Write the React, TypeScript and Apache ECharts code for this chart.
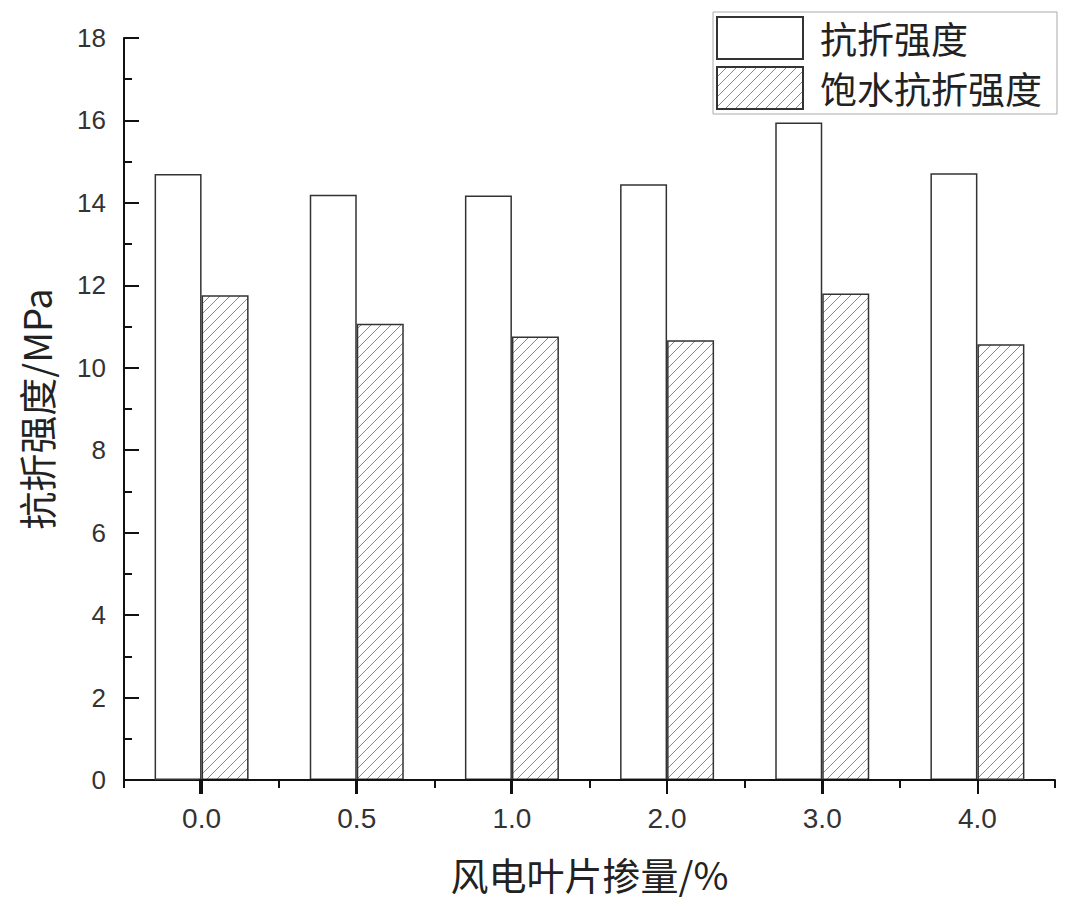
import React, { useEffect, useRef } from "react";
import * as echarts from "echarts";

const categories = ["0.0", "0.5", "1.0", "2.0", "3.0", "4.0"];
const flexural = [14.7, 14.2, 14.18, 14.45, 15.95, 14.72];
const saturatedFlexural = [11.76, 11.07, 10.76, 10.67, 11.8, 10.57];
const seriesNames = ["抗折强度", "饱水抗折强度"];

function makeHatch(): HTMLCanvasElement {
  const s = 10;
  const c = document.createElement("canvas");
  c.width = s;
  c.height = s;
  const ctx = c.getContext("2d")!;
  ctx.fillStyle = "#ffffff";
  ctx.fillRect(0, 0, s, s);
  ctx.strokeStyle = "#8a8a8a";
  ctx.lineWidth = 1;
  ctx.beginPath();
  ctx.moveTo(-1, s + 1);
  ctx.lineTo(s + 1, -1);
  ctx.moveTo(-1, 1);
  ctx.lineTo(1, -1);
  ctx.moveTo(s - 1, s + 1);
  ctx.lineTo(s + 1, s - 1);
  ctx.stroke();
  return c;
}

export default function App() {
  const ref = useRef<HTMLDivElement>(null);
  useEffect(() => {
    if (!ref.current) return;
    const chart = echarts.init(ref.current, undefined, { renderer: "svg" });
    const hatch = makeHatch();
    const font = "'Liberation Sans', Arial, sans-serif";
    const cjk = "'Noto Sans CJK SC', sans-serif";
    const ink = "#111";
    const L = 114, R = 17, T = 30, B = 127;
    const width = 1064;
    const half = (width - L - R) / categories.length / 2;
    const centreIdx = categories.map((_, i) => i);
    chart.setOption({
      animation: false,
      backgroundColor: "#ffffff",
      grid: [
        { left: L, right: R, top: T, bottom: B },
        // spans first..last category centre: carries the major x ticks
        { left: L + half, right: R + half, top: T, bottom: B },
      ],
      legend: {
        orient: "vertical",
        left: 705,
        top: 4,
        icon: "rect",
        itemWidth: 86,
        itemHeight: 42,
        itemGap: 6,
        padding: [4, 15, 4, 3],
        borderColor: "#aaa",
        borderWidth: 1,
        textStyle: { fontSize: 37, fontFamily: cjk, color: "#222", padding: [0, 0, 0, 12] },
        data: seriesNames,
      },
      xAxis: [
        {
          type: "category",
          gridIndex: 0,
          data: categories,
          position: "bottom",
          boundaryGap: true,
          z: 1,
          axisLine: { show: true, onZero: false, lineStyle: { color: ink, width: 2 } },
          axisTick: { show: true, inside: false, length: 8, lineStyle: { color: ink, width: 2 } },
          axisLabel: { show: true, fontSize: 28, fontFamily: font, color: "#333", margin: 24 },
          splitLine: { show: false },
          name: "风电叶片掺量/%",
          nameLocation: "middle",
          nameGap: 74,
          nameTextStyle: { fontSize: 38, fontFamily: cjk, color: "#222" },
        },
        {
          type: "value",
          gridIndex: 1,
          min: 0,
          max: categories.length - 1,
          interval: 1,
          position: "bottom",
          z: 5,
          axisLine: { show: true, onZero: false, lineStyle: { color: ink, width: 2 } },
          axisTick: { show: true, inside: false, length: 14, lineStyle: { color: ink, width: 2 } },
          axisLabel: { show: false },
          splitLine: { show: false },
        },
        {
          type: "value",
          gridIndex: 0,
          min: -0.5,
          max: categories.length - 0.5,
          splitNumber: categories.length - 1,
          position: "bottom",
          z: 5,
          axisLine: { show: false, onZero: false },
          axisTick: {
            show: true,
            inside: false,
            length: 14,
            customValues: centreIdx,
            lineStyle: { color: ink, width: 2 },
          },
          axisLabel: { show: false },
          splitLine: { show: false },
        },
      ],
      yAxis: [
        {
          type: "value",
          gridIndex: 0,
          min: 0,
          max: 18,
          interval: 2,
          position: "left",
          splitLine: { show: false },
          axisLine: { show: true, onZero: false, lineStyle: { color: ink, width: 2 } },
          axisTick: { show: true, inside: true, length: 15, lineStyle: { color: ink, width: 2 } },
          axisLabel: { show: true, fontSize: 26, fontFamily: font, color: "#333", margin: 18 },
          name: "抗折强度/MPa",
          nameLocation: "middle",
          nameGap: 70,
          nameTextStyle: { fontSize: 38, fontFamily: cjk, color: "#222" },
        },
        {
          type: "value",
          gridIndex: 0,
          min: 0,
          max: 18,
          interval: 1,
          position: "left",
          splitLine: { show: false },
          axisLine: { show: false, onZero: false },
          axisTick: { show: true, inside: true, length: 8, lineStyle: { color: ink, width: 2 } },
          axisLabel: { show: false },
        },
        {
          type: "value",
          gridIndex: 1,
          min: 0,
          max: 18,
          axisLine: { show: false, onZero: false },
          axisTick: { show: false },
          axisLabel: { show: false },
          splitLine: { show: false },
        },
      ],
      series: [
        {
          name: seriesNames[0],
          type: "bar",
          xAxisIndex: 0,
          yAxisIndex: 0,
          data: flexural,
          barWidth: 47,
          barGap: "0%",
          itemStyle: { color: "#ffffff", borderColor: "#333", borderWidth: 1.5 },
        },
        {
          name: seriesNames[1],
          type: "bar",
          xAxisIndex: 0,
          yAxisIndex: 0,
          data: saturatedFlexural,
          barWidth: 47,
          barGap: "0%",
          itemStyle: {
            color: { image: hatch, repeat: "repeat" },
            borderColor: "#333",
            borderWidth: 1.5,
          },
        },
      ],
    });
    return () => chart.dispose();
  }, []);
  return <div ref={ref} style={{ width: 1064, height: 899 }} />;
}
